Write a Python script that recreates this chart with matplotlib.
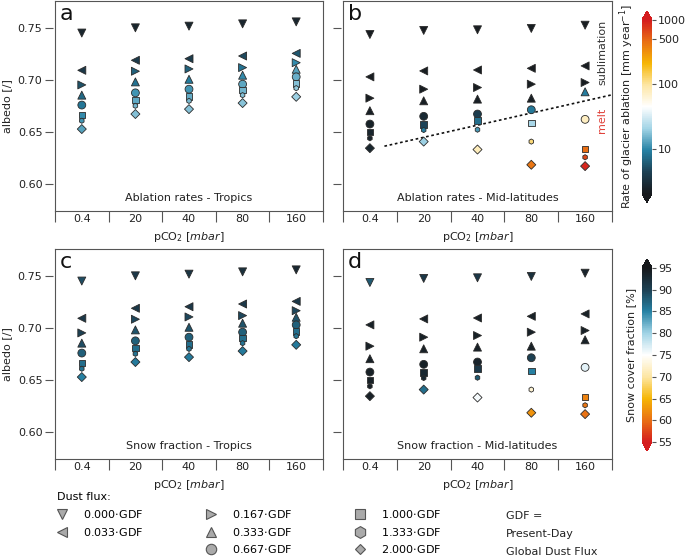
import numpy as np
import matplotlib
matplotlib.use("Agg")
import matplotlib.pyplot as plt
from matplotlib.colors import LinearSegmentedColormap, LogNorm, Normalize
from matplotlib.cm import ScalarMappable
from matplotlib.lines import Line2D
from matplotlib.ticker import NullLocator

plt.rcParams["font.family"] = "DejaVu Sans"
plt.rcParams["font.size"] = 8

# pCO2 levels (categorical x axis)
co2_labels = ["0.4", "20", "40", "80", "160"]

# dust flux scenarios, as fractions of the present-day global dust flux
dust_labels = ["0.000", "0.033", "0.167", "0.333", "0.667", "1.000", "1.333", "2.000"]
dust_markers = ["v", "<", ">", "^", "o", "s", "h", "D"]

# albedo, rows = dust scenario, cols = pCO2
albedo_tropics = [
    [0.7450, 0.7500, 0.7516, 0.7538, 0.7557],
    [0.7093, 0.7189, 0.7204, 0.7230, 0.7255],
    [0.6953, 0.7084, 0.7106, 0.7119, 0.7166],
    [0.6855, 0.6982, 0.7007, 0.7046, 0.7103],
    [0.6760, 0.6877, 0.6912, 0.6960, 0.7030],
    [0.6664, 0.6807, 0.6842, 0.6903, 0.6969],
    [0.6610, 0.6753, 0.6800, 0.6855, 0.6922],
    [0.6530, 0.6674, 0.6721, 0.6779, 0.6839],
]
albedo_midlat = [
    [0.7436, 0.7475, 0.7481, 0.7494, 0.7525],
    [0.7030, 0.7087, 0.7096, 0.7112, 0.7135],
    [0.6826, 0.6912, 0.6928, 0.6960, 0.6976],
    [0.6706, 0.6801, 0.6817, 0.6826, 0.6887],
    [0.6578, 0.6652, 0.6674, 0.6715, 0.6623],
    [0.6500, 0.6572, 0.6610, 0.6588, 0.6337],
    [0.6442, 0.6521, 0.6524, 0.6410, 0.6260],
    [0.6347, 0.6410, 0.6334, 0.6188, 0.6175],
]

# glacier ablation rate [mm/yr]
ablation_tropics = [
    [2.6, 2.6, 2.6, 2.6, 2.6],
    [3.7, 3.9, 3.9, 4.8, 5.8],
    [5.4, 6.5, 6.5, 7.8, 10.4],
    [7.0, 7.8, 8.9, 10.4, 12.9],
    [8.3, 11.4, 11.4, 13.3, 14.5],
    [10.4, 13.8, 14.2, 15.1, 17.0],
    [11.4, 15.5, 16.0, 17.0, 18.7],
    [12.9, 17.0, 17.0, 17.6, 20.0],
]
ablation_midlat = [
    [2.2, 2.2, 2.2, 2.2, 2.2],
    [2.2, 2.2, 2.2, 2.2, 2.2],
    [2.2, 2.2, 2.2, 2.2, 2.2],
    [2.3, 2.3, 2.3, 2.3, 9.0],
    [2.4, 2.8, 4.0, 8.5, 75.0],
    [2.6, 4.5, 7.5, 22.0, 450.0],
    [2.5, 9.0, 12.0, 120.0, 650.0],
    [2.6, 20.0, 80.0, 420.0, 900.0],
]

# snow cover fraction [%]
snow_tropics = [
    [89.0, 91.0, 91.5, 92.0, 93.0],
    [91.0, 91.0, 91.0, 91.0, 91.0],
    [90.0, 89.5, 89.5, 89.5, 89.5],
    [89.0, 88.5, 88.5, 88.5, 88.5],
    [87.5, 87.5, 87.5, 87.5, 87.5],
    [86.5, 86.5, 86.5, 86.5, 86.5],
    [86.0, 86.0, 86.0, 86.0, 86.0],
    [85.0, 85.5, 85.5, 85.5, 85.5],
]
snow_midlat = [
    [88.0, 91.0, 91.0, 92.0, 93.5],
    [94.0, 94.0, 94.0, 94.0, 94.0],
    [94.0, 94.0, 94.0, 94.0, 94.0],
    [94.0, 94.0, 94.0, 94.0, 94.0],
    [94.0, 94.0, 93.5, 90.0, 76.5],
    [94.0, 93.0, 91.0, 85.0, 61.5],
    [94.0, 93.0, 88.0, 72.5, 60.5],
    [94.0, 86.5, 75.5, 62.5, 60.3],
]

# sublimation / melt regime boundary drawn in panel b
boundary_x = [0.27, 4.6]
boundary_y = [0.6366, 0.6870]

SPINE = "#555555"
TEXT = "#222222"

cmap = LinearSegmentedColormap.from_list("abl", [
    (0.000, "#17191c"), (0.125, "#1d4154"), (0.250, "#2682a4"),
    (0.375, "#a2d4e6"), (0.500, "#ffffff"), (0.625, "#fde6a4"),
    (0.750, "#f6b605"), (0.875, "#e96f14"), (1.000, "#d41c1e"),
])
abl_norm = LogNorm(2, 1000)
snow_norm = Normalize(55, 95)
snow_cmap = cmap.reversed()

sizes = {"v": 33, "<": 33, ">": 33, "^": 33, "o": 32, "s": 22, "h": 14, "D": 21}

fig = plt.figure(figsize=(6.85, 5.58), dpi=100)
W, H = 685.0, 558.0


def px_axes(x0, x1, y0, y1):
    return fig.add_axes([x0 / W, 1 - y1 / H, (x1 - x0) / W, (y1 - y0) / H])


ax_a = px_axes(55, 323, 1, 211)
ax_b = px_axes(343, 612, 1, 211)
ax_c = px_axes(55, 323, 249, 459)
ax_d = px_axes(343, 612, 249, 459)

panels = [
    (ax_a, "a", albedo_tropics, ablation_tropics, cmap, abl_norm, "Ablation rates - Tropics"),
    (ax_b, "b", albedo_midlat, ablation_midlat, cmap, abl_norm, "Ablation rates - Mid-latitudes"),
    (ax_c, "c", albedo_tropics, snow_tropics, snow_cmap, snow_norm, "Snow fraction - Tropics"),
    (ax_d, "d", albedo_midlat, snow_midlat, snow_cmap, snow_norm, "Snow fraction - Mid-latitudes"),
]

x = np.arange(len(co2_labels))
for ax, letter, alb, col, cm, nrm, title in panels:
    for i, m in enumerate(dust_markers):
        ax.scatter(x, alb[i], c=col[i], cmap=cm, norm=nrm, marker=m, s=sizes[m],
                   edgecolors="#2b2b2b", linewidths=0.6, zorder=3)

    ax.set_xlim(-0.5, len(co2_labels) - 0.5)
    ax.set_ylim(0.5745, 0.7757)
    ax.set_yticks([0.60, 0.65, 0.70, 0.75])

    # category cells below the axes
    ax.set_xticks(np.arange(-0.5, len(co2_labels), 1.0))
    ax.set_xticklabels([])
    ax.set_xticks(x, minor=True)
    ax.set_xticklabels(co2_labels, minor=True)
    ax.tick_params(axis="x", which="major", length=8, direction="out", color=SPINE, width=0.8)
    ax.tick_params(axis="x", which="minor", length=0, pad=2.5, labelsize=8, labelcolor=TEXT)
    ax.tick_params(axis="y", length=5.5, direction="out", color=SPINE, width=0.8,
                   pad=2, labelsize=8, labelcolor=TEXT)

    for sp in ["top", "right", "bottom"]:
        ax.spines[sp].set_color(SPINE)
        ax.spines[sp].set_linewidth(0.8)
    ax.spines["left"].set_position(("outward", 1.5))
    ax.spines["left"].set_visible(False)
    ax.plot([0, 0], [0, 1], transform=ax.transAxes, color=SPINE, lw=0.8, clip_on=False, zorder=5)

    ax.set_xlabel("pCO$_2$ [$mbar$]", fontsize=8, color=TEXT, labelpad=2)
    ax.text(0.5, 0.06, title, transform=ax.transAxes, ha="center", va="center",
            fontsize=8, color=TEXT)
    ax.text(0.018, 0.985, letter, transform=ax.transAxes, ha="left", va="top",
            fontsize=16, color="#111111")

for ax in (ax_a, ax_c):
    ax.set_ylabel("albedo [/]", fontsize=8, color=TEXT, labelpad=4)
for ax in (ax_b, ax_d):
    ax.tick_params(axis="y", labelleft=False)

ax_b.plot(boundary_x, boundary_y, ls=(0, (1.6, 1.6)), color="#111111", lw=1.2, zorder=2)
ax_b.text(4.32, 0.7265, "sublimation", rotation=90, ha="center", va="center",
          fontsize=8, color="#333333")
ax_b.text(4.32, 0.6616, "melt", rotation=90, ha="center", va="center",
          fontsize=8, color="#e0413a")

# colorbars
cax1 = px_axes(642, 652, 11, 202.6)
cb1 = fig.colorbar(ScalarMappable(abl_norm, cmap), cax=cax1, extend="both")
cb1.set_ticks([10, 100, 500, 1000])
cb1.set_ticklabels(["10", "100", "500", "1000"])
cax1.yaxis.set_minor_locator(NullLocator())
cb1.set_label("Rate of glacier ablation [mm year$^{-1}$]", fontsize=8, color=TEXT, labelpad=4)

cax2 = px_axes(642, 652, 259, 451)
cb2 = fig.colorbar(ScalarMappable(snow_norm, snow_cmap), cax=cax2, extend="both")
cb2.set_ticks(np.arange(55, 96, 5))
cb2.set_label("Snow cover fraction [%]", fontsize=8, color=TEXT, labelpad=4)

for cb in (cb1, cb2):
    cb.outline.set_visible(False)
    cb.ax.yaxis.set_label_position("left")
    cb.ax.tick_params(length=3, width=0.8, color=SPINE, labelsize=8, labelcolor=TEXT, pad=1.5)

# legend for dust flux markers
leg_sizes = {"v": 7, "<": 7, ">": 7, "^": 7.5, "o": 7.5, "s": 6.5, "h": 8.5, "D": 5.5}
handles = []
labels = []
for m, d in zip(dust_markers, dust_labels):
    handles.append(Line2D([], [], ls="none", marker=m, markersize=leg_sizes[m],
                          markerfacecolor="#aaaaaa", markeredgecolor="#555555", markeredgewidth=0.8))
    labels.append(d + r"$\cdot$GDF")
blank = Line2D([], [], ls="none")
handles.insert(2, blank)
labels.insert(2, "")

fig.legend(handles, labels, ncol=3, loc="upper left", bbox_to_anchor=(53 / W, 1 - 488 / H),
           frameon=False, fontsize=8, title="Dust flux:", title_fontsize=8, alignment="left",
           handlelength=0.8, handletextpad=1.5, columnspacing=5.7, labelspacing=0.5,
           borderpad=0.4, borderaxespad=0)

for txt, yy in zip(["GDF =", "Present-Day", "Global Dust Flux"], [516, 534, 552]):
    fig.text(506 / W, 1 - yy / H, txt, ha="left", va="center", fontsize=8, color=TEXT)

fig.savefig("out.png", dpi=100)
